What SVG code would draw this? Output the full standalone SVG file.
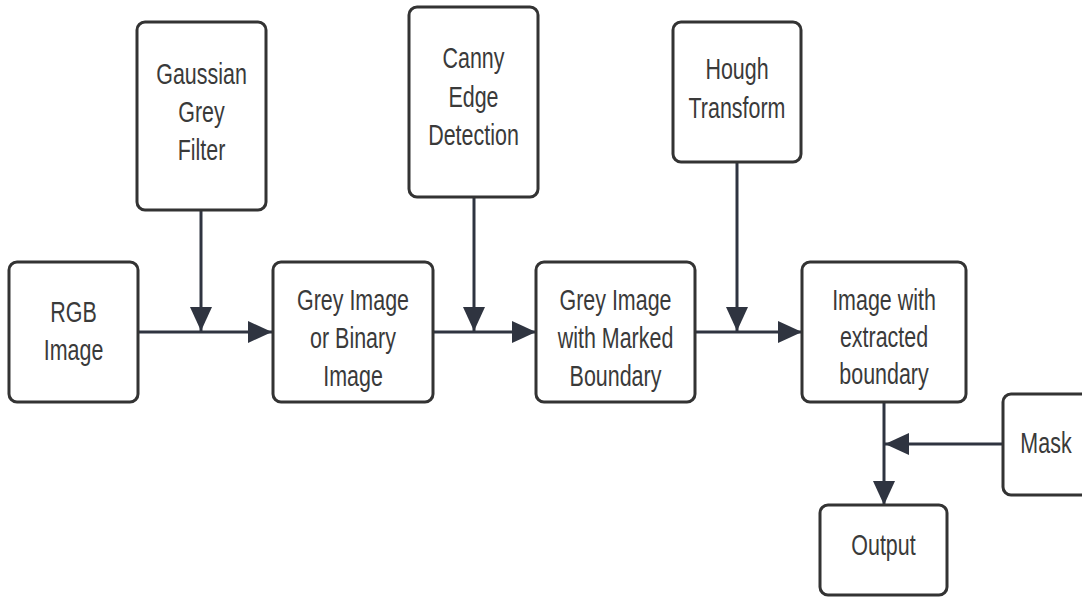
<svg xmlns="http://www.w3.org/2000/svg" width="1082" height="597" viewBox="0 0 1082 597">
<style>
.box{fill:#ffffff;stroke:#333333;stroke-width:3}
.t{font-family:"Liberation Sans",Arial,sans-serif;font-size:29px;fill:#3a3a3a;text-anchor:middle}
.c{fill:none;stroke:#2f3440;stroke-width:3}
</style>
<defs>
<marker id="ah" markerUnits="userSpaceOnUse" markerWidth="26" markerHeight="24" refX="24" refY="12" orient="auto">
<path d="M0,1 L24,12 L0,23 Z" fill="#2f3440"/>
</marker>
</defs>
<rect width="1082" height="597" fill="#ffffff"/>
<g id="connectors">
<line class="c" x1="138" y1="332" x2="272" y2="332" marker-end="url(#ah)"/>
<line class="c" x1="201" y1="210" x2="201" y2="331" marker-end="url(#ah)"/>
<line class="c" x1="433" y1="332" x2="536" y2="332" marker-end="url(#ah)"/>
<line class="c" x1="474" y1="197" x2="474" y2="331" marker-end="url(#ah)"/>
<line class="c" x1="695" y1="332" x2="802" y2="332" marker-end="url(#ah)"/>
<line class="c" x1="737" y1="162" x2="737" y2="331" marker-end="url(#ah)"/>
<line class="c" x1="884" y1="402" x2="884" y2="505" marker-end="url(#ah)"/>
<line class="c" x1="1003" y1="444" x2="885" y2="444" marker-end="url(#ah)"/>
</g>
<g id="rgb">
<rect class="box" x="9" y="262" width="129" height="140" rx="8"/>
<g transform="translate(73.5 0) scale(0.74 1)">
<text class="t" x="0" y="322">RGB</text>
<text class="t" x="0" y="360">Image</text>
</g>
</g>
<g id="gaussian">
<rect class="box" x="137" y="22" width="129" height="188" rx="8"/>
<g transform="translate(201.5 0) scale(0.74 1)">
<text class="t" x="0" y="84">Gaussian</text>
<text class="t" x="0" y="122">Grey</text>
<text class="t" x="0" y="160">Filter</text>
</g>
</g>
<g id="grey">
<rect class="box" x="273" y="262" width="160" height="140" rx="8"/>
<g transform="translate(353 0) scale(0.74 1)">
<text class="t" x="0" y="310">Grey Image</text>
<text class="t" x="0" y="348">or Binary</text>
<text class="t" x="0" y="386">Image</text>
</g>
</g>
<g id="canny">
<rect class="box" x="409" y="7" width="129" height="190" rx="8"/>
<g transform="translate(473.5 0) scale(0.74 1)">
<text class="t" x="0" y="68">Canny</text>
<text class="t" x="0" y="107">Edge</text>
<text class="t" x="0" y="145">Detection</text>
</g>
</g>
<g id="marked">
<rect class="box" x="536" y="262" width="159" height="140" rx="8"/>
<g transform="translate(615.5 0) scale(0.74 1)">
<text class="t" x="0" y="310">Grey Image</text>
<text class="t" x="0" y="348">with Marked</text>
<text class="t" x="0" y="386">Boundary</text>
</g>
</g>
<g id="hough">
<rect class="box" x="673" y="22" width="128" height="140" rx="8"/>
<g transform="translate(737 0) scale(0.74 1)">
<text class="t" x="0" y="79">Hough</text>
<text class="t" x="0" y="118">Transform</text>
</g>
</g>
<g id="extracted">
<rect class="box" x="802" y="262" width="164" height="140" rx="8"/>
<g transform="translate(884 0) scale(0.74 1)">
<text class="t" x="0" y="310">Image with</text>
<text class="t" x="0" y="347">extracted</text>
<text class="t" x="0" y="384">boundary</text>
</g>
</g>
<g id="mask">
<rect class="box" x="1003" y="394" width="90" height="101" rx="8"/>
<g transform="translate(1046 0) scale(0.74 1)">
<text class="t" x="0" y="453">Mask</text>
</g>
</g>
<g id="output">
<rect class="box" x="820" y="505" width="127" height="90" rx="8"/>
<g transform="translate(883.5 0) scale(0.74 1)">
<text class="t" x="0" y="555">Output</text>
</g>
</g>
</svg>
